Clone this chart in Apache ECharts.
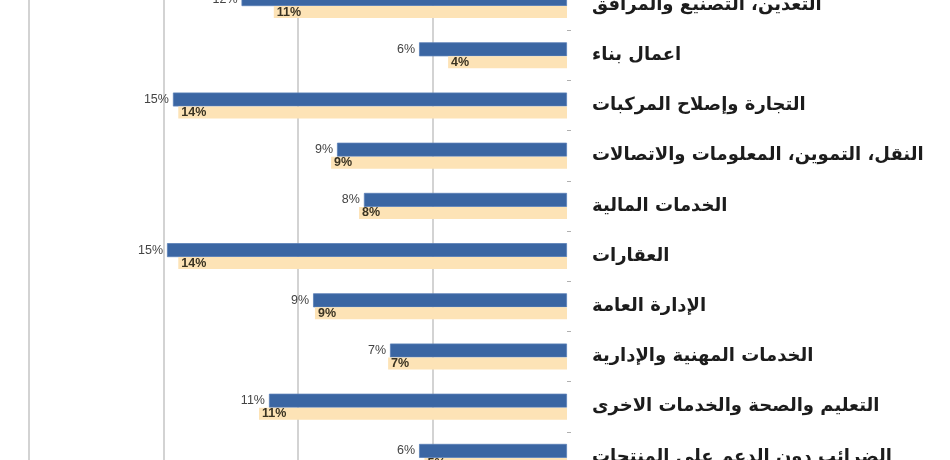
<!DOCTYPE html>
<html>
<head>
<meta charset="utf-8">
<script src="https://cdn.jsdelivr.net/npm/echarts@6/dist/echarts.min.js"></script>
<style>
  html, body { margin: 0; padding: 0; background: #fff; overflow: hidden; }
  /* الرسم مقصوص من الأعلى والأسفل كما في الصورة */
  #chart { position: absolute; left: 0; top: -20px; width: 950px; height: 502px; }
</style>
</head>
<body>
<div id="chart"></div>
<script>
// القطاعات
const categories = [
  'التعدين، التصنيع والمرافق',
  'اعمال بناء',
  'التجارة وإصلاح المركبات',
  'النقل، التموين، المعلومات والاتصالات',
  'الخدمات المالية',
  'العقارات',
  'الإدارة العامة',
  'الخدمات المهنية والإدارية',
  'التعليم والصحة والخدمات الاخرى',
  'الضرائب دون الدعم على المنتجات'
]

// السلسلة الزرقاء والبيج (بالنسبة المئوية)
const blueValues = [12.1, 5.5, 14.65, 8.55, 7.55, 14.87, 9.44, 6.58, 11.08, 5.5]
const beigeValues = [10.9, 4.42, 14.45, 8.77, 7.73, 14.45, 9.37, 6.65, 11.45, 5.3]

// تدريج المحور
const axisMax = 20
const axisStep = 5

const chart = echarts.init(document.getElementById('chart'))

const pct = (p) => Math.round(p.value) + '%'

const option = {
  animation: false,
  grid: { left: 29, right: 383, top: 0, bottom: 0 },
  xAxis: {
    type: 'value',
    inverse: true,
    min: 0,
    max: axisMax,
    interval: axisStep,
    axisLine: { show: false },
    axisTick: { show: false },
    axisLabel: { show: false },
    splitLine: {
      lineStyle: {
        color: ['rgba(0,0,0,0)', '#c4c4c4', '#c4c4c4', '#c4c4c4', '#c4c4c4'],
        width: 1.5
      }
    }
  },
  yAxis: {
    type: 'category',
    position: 'right',
    inverse: true,
    data: categories,
    axisLine: { show: false },
    axisTick: { show: true, length: 4, lineStyle: { color: '#b0b0b0' } },
    axisLabel: {
      align: 'left',
      margin: 25,
      fontFamily: 'DejaVu Sans',
      fontWeight: 'bold',
      fontSize: 18,
      color: '#1c1c1c'
    }
  },
  series: [
    {
      name: 'blue',
      type: 'bar',
      data: blueValues,
      barWidth: 14,
      barGap: '0%',
      itemStyle: { color: '#3b66a3', borderColor: '#5a80b8', borderWidth: 0.8 },
      label: {
        show: true,
        position: 'left',
        distance: 4,
        formatter: pct,
        fontFamily: 'Liberation Sans',
        fontSize: 12.5,
        color: '#444'
      }
    },
    {
      name: 'beige',
      type: 'bar',
      data: beigeValues,
      barWidth: 12,
      itemStyle: { color: '#fde3b6' },
      label: {
        show: true,
        position: 'insideLeft',
        distance: 3,
        formatter: pct,
        fontFamily: 'Liberation Sans',
        fontWeight: 'bold',
        fontSize: 12.5,
        color: '#3a3322'
      }
    }
  ]
}

chart.setOption(option)
</script>
</body>
</html>
